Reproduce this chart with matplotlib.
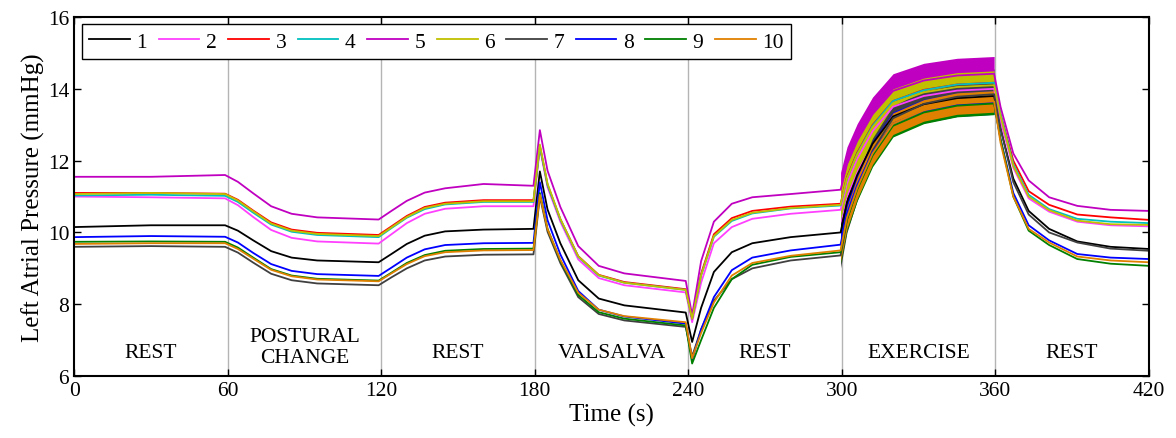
import numpy as np
import matplotlib.pyplot as plt

plt.rcParams['font.family'] = 'Liberation Serif'

# sample times (s)
t = np.array([0, 30, 59, 64, 70, 77, 85, 95, 119, 124, 130, 137, 145, 160, 179.5,
              182, 185, 190, 197, 205, 215, 239, 241.5, 245, 250, 257, 265, 280, 299.5,
              302, 306, 312, 320, 332, 345, 359.5, 362, 367, 373, 381, 392, 405, 420])

# left atrial pressure (mmHg), one array per subject
p1 = np.array([10.15, 10.2, 10.2, 10.05, 9.78, 9.48, 9.3, 9.22, 9.17, 9.4, 9.68, 9.91, 10.03, 10.08, 10.1,
               11.7, 10.64, 9.7, 8.67, 8.16, 7.97, 7.77, 6.95, 7.9, 8.9, 9.45, 9.7, 9.87, 10.0,
               10.84, 11.6, 12.47, 13.23, 13.57, 13.74, 13.8, 12.9, 11.5, 10.6, 10.1, 9.75, 9.6, 9.54])
p2 = np.array([11.0, 10.98, 10.95, 10.76, 10.43, 10.07, 9.85, 9.75, 9.69, 9.95, 10.26, 10.52, 10.66, 10.73, 10.73,
               12.35, 11.26, 10.3, 9.25, 8.73, 8.53, 8.33, 7.5, 8.6, 9.7, 10.15, 10.38, 10.52, 10.63,
               11.37, 12.05, 12.82, 13.5, 13.8, 13.95, 14.0, 13.1, 11.8, 10.95, 10.58, 10.3, 10.2, 10.17])
p3 = np.array([11.1, 11.1, 11.08, 10.91, 10.61, 10.28, 10.08, 9.99, 9.93, 10.17, 10.46, 10.71, 10.83, 10.9, 10.9,
               12.4, 11.33, 10.37, 9.34, 8.82, 8.62, 8.42, 7.6, 8.85, 9.95, 10.4, 10.6, 10.72, 10.8,
               11.54, 12.22, 12.99, 13.66, 13.97, 14.12, 14.17, 13.3, 12.0, 11.15, 10.77, 10.5, 10.42, 10.35])
p4 = np.array([11.03, 11.05, 11.02, 10.85, 10.55, 10.22, 10.02, 9.93, 9.87, 10.12, 10.41, 10.65, 10.78, 10.85, 10.85,
               12.4, 11.32, 10.36, 9.32, 8.8, 8.6, 8.4, 7.6, 8.8, 9.88, 10.32, 10.53, 10.67, 10.75,
               11.5, 12.19, 12.97, 13.66, 13.96, 14.12, 14.17, 13.3, 11.9, 11.05, 10.65, 10.38, 10.3, 10.26])
p5 = np.array([11.55, 11.55, 11.6, 11.41, 11.09, 10.73, 10.52, 10.42, 10.36, 10.6, 10.88, 11.11, 11.23, 11.35, 11.3,
               12.85, 11.72, 10.71, 9.62, 9.07, 8.86, 8.65, 7.7, 9.2, 10.3, 10.8, 10.98, 11.07, 11.19,
               11.9, 12.55, 13.29, 13.94, 14.23, 14.37, 14.42, 13.5, 12.2, 11.45, 10.98, 10.74, 10.63, 10.6])
p6 = np.array([11.07, 11.1, 11.07, 10.89, 10.59, 10.25, 10.05, 9.96, 9.9, 10.14, 10.43, 10.68, 10.8, 10.87, 10.87,
               12.45, 11.36, 10.38, 9.33, 8.81, 8.6, 8.4, 7.6, 8.8, 9.9, 10.35, 10.55, 10.68, 10.77,
               11.5, 12.17, 12.93, 13.6, 13.9, 14.05, 14.1, 13.25, 11.85, 11.0, 10.62, 10.33, 10.23, 10.21])
p7 = np.array([9.6, 9.62, 9.6, 9.44, 9.16, 8.85, 8.67, 8.58, 8.53, 8.75, 9.0, 9.22, 9.33, 9.38, 9.39,
               11.0, 10.02, 9.15, 8.2, 7.73, 7.55, 7.37, 6.55, 7.3, 8.1, 8.7, 9.0, 9.22, 9.36,
               10.35, 11.25, 12.28, 13.18, 13.58, 13.78, 13.85, 12.9, 11.4, 10.5, 10.0, 9.72, 9.55, 9.49])
p8 = np.array([9.87, 9.9, 9.88, 9.72, 9.43, 9.12, 8.93, 8.84, 8.79, 9.02, 9.3, 9.53, 9.65, 9.7, 9.71,
               11.4, 10.34, 9.39, 8.37, 7.85, 7.66, 7.46, 6.45, 7.3, 8.2, 8.95, 9.3, 9.5, 9.66,
               10.53, 11.32, 12.23, 13.03, 13.38, 13.56, 13.62, 12.6, 11.1, 10.2, 9.78, 9.4, 9.3, 9.26])
p9 = np.array([9.74, 9.75, 9.74, 9.58, 9.3, 8.98, 8.8, 8.71, 8.66, 8.88, 9.15, 9.37, 9.49, 9.54, 9.55,
               11.1, 10.1, 9.22, 8.26, 7.78, 7.6, 7.41, 6.35, 7.0, 7.9, 8.7, 9.1, 9.32, 9.45,
               10.36, 11.19, 12.14, 12.97, 13.34, 13.53, 13.59, 12.6, 11.0, 10.05, 9.65, 9.26, 9.13, 9.07])
p10 = np.array([9.68, 9.7, 9.7, 9.54, 9.27, 8.96, 8.78, 8.69, 8.64, 8.86, 9.12, 9.34, 9.45, 9.5, 9.51,
                11.05, 10.09, 9.24, 8.32, 7.85, 7.67, 7.5, 6.5, 7.2, 8.05, 8.8, 9.15, 9.35, 9.5,
                10.41, 11.24, 12.2, 13.03, 13.4, 13.59, 13.65, 12.5, 11.0, 10.1, 9.72, 9.33, 9.22, 9.17])

# half peak-to-peak swing during exercise (mmHg)
swing = [0.35, 0.4, 0.38, 0.38, 0.48, 0.4, 0.35, 0.33, 0.31, 0.3]

names = ['1', '2', '3', '4', '5', '6', '7', '8', '9', '10']
colors = ['#000000', '#ff40ff', '#ff0000', '#00c0c0', '#c000c0',
          '#c0c000', '#404040', '#0000ff', '#008000', '#e08000']

phases = ['REST', 'POSTURAL\nCHANGE', 'REST', 'VALSALVA', 'REST', 'EXERCISE', 'REST']
phase_mid = [30, 90, 150, 210, 270, 330, 390]
phase_edges = [60, 120, 180, 240, 300, 360]

fig = plt.figure(figsize=(11.76, 4.39), dpi=100)
ax = fig.add_axes([0.063, 0.141, 0.914, 0.818])

for e in phase_edges:
    ax.axvline(e, color='#b4b4b4', lw=1, zorder=0)

ex = (t >= 299.5) & (t <= 359.5)
for y, c, s, name in zip([p1, p2, p3, p4, p5, p6, p7, p8, p9, p10], colors, swing, names):
    ax.plot(t, y, color=c, lw=1.3, label=name)
    ax.fill_between(t[ex], y[ex] - s, y[ex] + s, color=c, lw=0)

for x, lab in zip(phase_mid, phases):
    yy = 6.8 if '\n' in lab else 6.67
    ax.text(x, yy, lab, ha='center', va='center', fontsize=15.5, linespacing=1.15)

ax.set_xlim(0, 420)
ax.set_ylim(6, 16)
ax.set_xticks(np.arange(0, 421, 60))
ax.set_yticks(np.arange(6, 17, 2))
ax.tick_params(direction='in', top=True, right=True, length=5, width=1, labelsize=15.5)
for sp in ax.spines.values():
    sp.set_linewidth(1.5)

ax.set_xlabel('Time (s)', fontsize=18, labelpad=2)
ax.set_ylabel('Left Atrial Pressure (mmHg)', fontsize=18, labelpad=2)

leg = ax.legend(ncol=10, loc='upper left', bbox_to_anchor=(0.007, 0.98), borderaxespad=0,
                fontsize=15.5, handlelength=1.9, handletextpad=0.3, columnspacing=0.53,
                fancybox=False, edgecolor='black', framealpha=1, borderpad=0.35)
leg.get_frame().set_linewidth(1)

fig.savefig('out.png', dpi=100)
